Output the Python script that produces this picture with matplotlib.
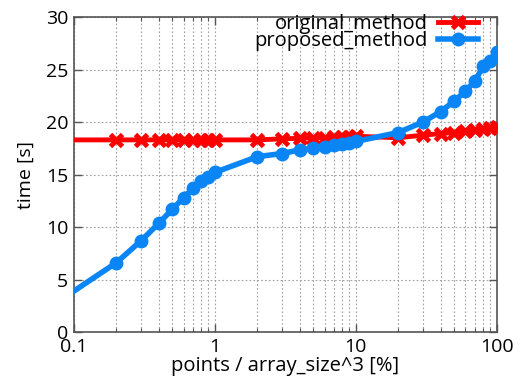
import matplotlib
matplotlib.use("Agg")
import matplotlib.pyplot as plt
from matplotlib.ticker import LogLocator, FixedLocator, NullFormatter

# ratio of points to array_size^3 [%]
ratios = [0.1, 0.2, 0.3, 0.4, 0.5, 0.6, 0.7, 0.8, 0.9,
          1, 2, 3, 4, 5, 6, 7, 8, 9,
          10, 20, 30, 40, 50, 60, 70, 80, 90, 100]

# elapsed time [s]
original_time = [18.3, 18.3, 18.3, 18.3, 18.3, 18.3, 18.3, 18.3, 18.3,
                 18.3, 18.3, 18.4, 18.45, 18.5, 18.5, 18.55, 18.6, 18.6,
                 18.65, 18.5, 18.75, 18.9, 19.0, 19.1, 19.2, 19.35, 19.45, 19.55]
proposed_time = [3.9, 6.6, 8.7, 10.35, 11.7, 12.8, 13.7, 14.4, 14.8,
                 15.2, 16.7, 17.0, 17.35, 17.5, 17.65, 17.8, 17.9, 18.05,
                 18.15, 19.0, 20.0, 21.0, 22.0, 22.95, 23.9, 25.3, 25.8, 26.7]

y_ticks = [0, 5, 10, 15, 20, 25, 30]
x_ticks = [0.1, 1, 10, 100]
x_tick_labels = ["0.1", "1", "10", "100"]

RED = "#ff0000"
BLUE = "#0a85f5"
GRID_COLOR = "#a0a0a0"

plt.rcParams["font.family"] = ["Open Sans", "DejaVu Sans"]

fig = plt.figure(figsize=(5.24, 3.79), dpi=100)
ax = fig.add_axes([0.141, 0.124, 0.807, 0.831])

ax.plot(ratios, original_time, color=RED, lw=3.5, marker="x", ms=8.5, mew=3.5,
        markevery=slice(1, None), label="original_method", zorder=3)
ax.plot(ratios, proposed_time, color=BLUE, lw=4, marker="o", ms=9,
        markevery=slice(1, None), label="proposed_method", zorder=4)

ax.set_xscale("log")
ax.set_xlim(0.1, 100)
ax.set_ylim(0, 30)
ax.xaxis.set_major_locator(FixedLocator(x_ticks))
ax.set_xticklabels(x_tick_labels)
ax.xaxis.set_minor_locator(LogLocator(base=10, subs=range(2, 10)))
ax.xaxis.set_minor_formatter(NullFormatter())
ax.set_yticks(y_ticks)

ax.grid(True, which="major", color=GRID_COLOR, ls=(0, (1.5, 2)), lw=0.8)
ax.grid(True, which="minor", axis="x", color=GRID_COLOR, ls=(0, (1.5, 2)), lw=0.8)

ax.tick_params(which="both", direction="in", top=True, right=True,
               labelsize=14, color="#555555", pad=4)
ax.tick_params(which="major", length=6, width=1)
ax.tick_params(which="minor", length=3, width=0.8)
for spine in ax.spines.values():
    spine.set_color("#555555")
    spine.set_linewidth(1.2)

ax.set_xlabel("points / array_size^3 [%]", fontsize=14.5, labelpad=0)
ax.set_ylabel("time [s]", fontsize=14, labelpad=8)

ax.legend(loc="upper right", bbox_to_anchor=(0.99, 1.055), frameon=False,
          markerfirst=False, fontsize=14.5, handlelength=2.0,
          labelspacing=-0.12, borderpad=0.2, handletextpad=0.5)

fig.savefig("out.png", dpi=100)
